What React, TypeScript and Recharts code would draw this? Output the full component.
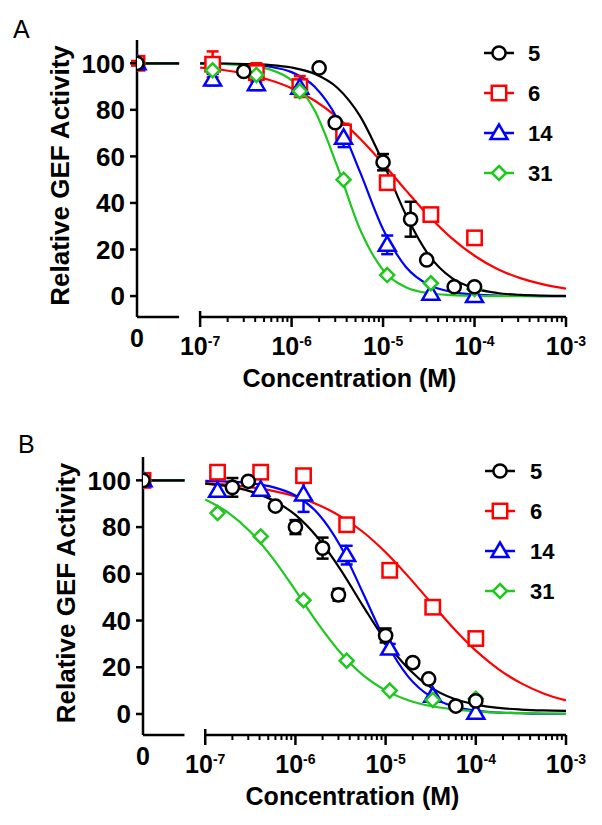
import React from 'react';
import { ComposedChart, XAxis, YAxis, Line, Scatter, ErrorBar, ReferenceLine, Legend, Label } from 'recharts';

const FONT = '"Liberation Sans", Arial, Helvetica, sans-serif';

// ---------------- data ----------------
const COMPOUNDS = ['5', '6', '14', '31'];
const COLORS = ['#000000', '#ff0000', '#0000ff', '#1ec81e'];
const SHAPES = ['circle', 'square', 'triangle', 'diamond'];

const Y_TICKS = [0, 20, 40, 60, 80, 100];
const X_DECADES = [-7, -6, -5, -4, -3];

// concentrations (M); 0 = no compound, drawn on the broken-axis segment
const DIL3_CONC = [0, 1.37e-7, 4.12e-7, 1.23e-6, 3.7e-6, 1.11e-5, 3.33e-5, 1e-4];
const A_CONC_5 = [0, 3e-7, 2e-6, 3e-6, 1e-5, 2e-5, 3e-5, 6e-5, 1e-4];
const B_CONC_5 = [0, 2e-7, 3e-7, 6e-7, 1e-6, 2e-6, 3e-6, 1e-5, 2e-5, 3e-5, 6e-5, 1e-4];

// Panel A measured points (relative GEF activity, %)
const A_VAL_5 = [100, 96.5, 98, 74.5, 57.5, 33, 15.5, 4, 4];
const A_ERR_5 = [0, 0, 0, 0, 3.5, 7.5, 0, 0, 0];
const A_VAL_6 = [100, 99.6, 96, 90, 70.5, 48.7, 35, 25];
const A_ERR_6 = [1, 5.5, 4, 4.5, 3.5, 0, 0, 0];
const A_VAL_14 = [100, 93, 91, 89.5, 68, 22, 1, 0];
const A_ERR_14 = [0, 2.5, 2.5, 2, 4, 4, 0, 0];
const A_VAL_31 = [100, 97, 95, 88, 50, 9, 5.5, 3];
const A_ERR_31 = [0, 0, 0, 2, 0, 0, 0, 0];

// Panel B measured points
const B_VAL_5 = [100, 97, 99.6, 89, 80, 71, 51, 33.6, 22, 15, 3.4, 5.6];
const B_ERR_5 = [0, 4, 0, 0, 3, 4.5, 2.5, 3, 0, 0, 0, 0];
const B_VAL_6 = [100, 103.5, 103.5, 102, 81, 61.5, 45.7, 32.3];
const B_ERR_6 = [0, 0, 0, 0, 0, 0, 0, 0];
const B_VAL_14 = [100, 95.5, 96, 94, 68, 28, 7.8, 0.5];
const B_ERR_14 = [0, 0, 0, 7.5, 4, 2, 0, 0];
const B_VAL_31 = [100, 86, 76, 48.7, 22.8, 10, 6, 6.5];
const B_ERR_31 = [0, 0, 0, 0, 0, 0, 0, 0];

// fitted curves (exponent of concentration -> %)
const CURVE_EXP = [-7, -6.75, -6.5, -6.25, -6, -5.75, -5.5, -5.25, -5, -4.75, -4.5, -4.25, -4, -3.75, -3.5, -3.25, -3];
const A_FIT_5 = [100, 99.9, 99.7, 99.3, 98.2, 95.5, 89.5, 77.2, 57.4, 34.9, 17.6, 7.8, 3.3, 1.3, 0.5, 0.2, 0.1];
const A_FIT_6 = [98.1, 97.1, 95.4, 92.9, 89.3, 84.0, 76.8, 67.6, 56.9, 45.4, 34.4, 24.9, 17.3, 11.6, 7.7, 5.0, 3.2];
const A_FIT_14 = [99.9, 99.8, 99.5, 98.6, 96.2, 90.0, 76.2, 53.1, 28.7, 12.5, 4.8, 1.8, 0.6, 0.2, 0.1, 0, 0];
const A_FIT_31 = [99.9, 99.7, 99.2, 97.5, 92.6, 79.9, 55.7, 28.5, 11.2, 3.8, 1.2, 0.4, 0.1, 0, 0, 0, 0];
const B_FIT_5 = [98.6, 97.5, 95.3, 91.5, 85.2, 75.3, 61.8, 46.2, 31.3, 19.5, 11.4, 6.6, 4.0, 2.6, 1.9, 1.5, 1.3];
const B_FIT_6 = [98.8, 98.1, 97.1, 95.5, 93.1, 89.6, 84.6, 77.9, 69.2, 58.9, 47.8, 36.8, 27.1, 19.2, 13.2, 8.8, 5.8];
const B_FIT_14 = [99.8, 99.5, 98.8, 97.1, 93.5, 85.8, 71.8, 51.7, 31.1, 16.0, 7.4, 3.3, 1.4, 0.6, 0.3, 0.1, 0.1];
const B_FIT_31 = [91.8, 86.3, 78.0, 66.6, 52.9, 38.7, 26.2, 16.6, 10.1, 5.9, 3.4, 2.0, 1.1, 0.6, 0.4, 0.2, 0.1];

// zero-dose plateau segment
const ZERO_SEG_VAL = [100, 100];

// ---------------- layout ----------------
const ZERO_X = -7.69; // where "0" sits on the axis
const ZERO_END = -7.23; // end of the zero segment
const X_MAX = -3;
const Y_MIN = -9;
const Y_MAX = 110;

const MINOR_TICKS: number[] = [];
[-7, -6, -5, -4].forEach((k) => {
  for (let m = 2; m <= 9; m++) MINOR_TICKS.push(k + Math.log10(m));
});
const X_TICKS = [ZERO_X, ...X_DECADES, ...MINOR_TICKS];

const toX = (c: number) => (c === 0 ? ZERO_X : Math.log10(c));
const pts = (conc: number[], val: number[], err: number[]) =>
  conc.map((c, i) => ({ x: toX(c), y: val[i], err: err[i] }));
const curve = (vals: number[]) => CURVE_EXP.map((e, i) => ({ x: e, y: vals[i] }));
const zeroSeg = () => [
  { x: ZERO_X, y: ZERO_SEG_VAL[0] },
  { x: ZERO_END, y: ZERO_SEG_VAL[1] },
];

function Marker({ cx, cy, shape, color }: any) {
  if (cx == null || cy == null || isNaN(cx) || isNaN(cy)) return <g />;
  const sw = 2.5;
  if (shape === 'circle') return <circle cx={cx} cy={cy} r={6.6} fill="#fff" stroke={color} strokeWidth={sw} />;
  if (shape === 'square')
    return <rect x={cx - 7.2} y={cy - 7.2} width={14.4} height={14.4} fill="#fff" stroke={color} strokeWidth={sw} />;
  if (shape === 'triangle')
    return (
      <polygon
        points={`${cx},${cy - 8.5} ${cx - 8.5},${cy + 6} ${cx + 8.5},${cy + 6}`}
        fill="#fff"
        stroke={color}
        strokeWidth={sw}
        strokeLinejoin="miter"
      />
    );
  return (
    <polygon
      points={`${cx},${cy - 7} ${cx + 7},${cy} ${cx},${cy + 7} ${cx - 7},${cy}`}
      fill="#fff"
      stroke={color}
      strokeWidth={sw}
    />
  );
}

function XTick(props: any) {
  const { x, y, payload } = props;
  const v = payload.value;
  if (Math.abs(v - ZERO_X) < 1e-9) {
    return (
      <text x={x} y={y + 30} textAnchor="middle" fontSize={25} fontWeight="bold" fontFamily={FONT} fill="#000">
        0
      </text>
    );
  }
  const major = Math.abs(v - Math.round(v)) < 1e-9;
  if (!major) return <line x1={x} y1={y} x2={x} y2={y + 5} stroke="#000" strokeWidth={2} />;
  const first = Math.abs(v - X_DECADES[0]) < 1e-9;
  return (
    <g>
      <line x1={x} y1={first ? y - 6 : y} x2={x} y2={y + 10} stroke="#000" strokeWidth={2.5} />
      <text x={x} y={y + 38} textAnchor="middle" fontWeight="bold" fontFamily={FONT} fill="#000">
        <tspan fontSize={25}>10</tspan>
        <tspan fontSize={14} dy={-9}>
          {String(Math.round(v))}
        </tspan>
      </text>
    </g>
  );
}

function LegendBox({ markerX, textX, rowTop, gap }: any) {
  return (
    <svg width={110} height={175} style={{ overflow: 'visible' }}>
      {COMPOUNDS.map((name, i) => {
        const y = rowTop + i * gap;
        return (
          <g key={name}>
            <line x1={markerX - 15} y1={y} x2={markerX + 15} y2={y} stroke={COLORS[i]} strokeWidth={2.5} />
            <Marker cx={markerX} cy={y} shape={SHAPES[i]} color={COLORS[i]} />
            <text
              x={textX}
              y={y}
              dominantBaseline="central"
              fontSize={22}
              fontWeight="bold"
              fontFamily={FONT}
              fill="#000"
            >
              {name}
            </text>
          </g>
        );
      })}
    </svg>
  );
}

const DRAW_ORDER = [1, 2, 3, 0];

function Panel({ height, marginTop, marginBottom, yAxisWidth, points, fits, legend }: any) {
  return (
    <ComposedChart
      width={602}
      height={height}
      margin={{ top: marginTop, right: 36, bottom: marginBottom, left: 0 }}
    >
      <XAxis
        type="number"
        dataKey="x"
        domain={[ZERO_X, X_MAX]}
        allowDataOverflow
        ticks={X_TICKS}
        interval={0}
        tick={<XTick />}
        axisLine={false}
        tickLine={false}
        tickSize={0}
        tickMargin={0}
        height={80}
      >
        <Label
          content={(p: any) => {
            const vb = p.viewBox;
            return (
              <text
                x={vb.x + vb.width / 2 - 2}
                y={vb.y + 70}
                textAnchor="middle"
                fontSize={25}
                fontWeight="bold"
                fontFamily={FONT}
                fill="#000"
              >
                Concentration (M)
              </text>
            );
          }}
        />
      </XAxis>
      <YAxis
        type="number"
        dataKey="y"
        domain={[Y_MIN, Y_MAX]}
        allowDataOverflow
        ticks={Y_TICKS}
        interval={0}
        width={yAxisWidth}
        tick={{ fontSize: 26, fontWeight: 'bold', fill: '#000', fontFamily: FONT }}
        tickSize={7}
        tickMargin={5}
        axisLine={{ stroke: '#000', strokeWidth: 2.5 }}
        tickLine={{ stroke: '#000', strokeWidth: 2.5 }}
      >
        <Label
          content={(p: any) => {
            const vb = p.viewBox;
            const cx = vb.x + vb.width - 77;
            const cy = vb.y + vb.height / 2 - 3;
            return (
              <text
                x={cx}
                y={cy}
                transform={`rotate(-90 ${cx} ${cy})`}
                textAnchor="middle"
                dominantBaseline="central"
                fontSize={26}
                fontWeight="bold"
                fontFamily={FONT}
                fill="#000"
              >
                Relative GEF Activity
              </text>
            );
          }}
        />
      </YAxis>
      <ReferenceLine
        segment={[
          { x: ZERO_X, y: Y_MIN },
          { x: ZERO_END, y: Y_MIN },
        ]}
        stroke="#000"
        strokeWidth={2.5}
        ifOverflow="visible"
      />
      <ReferenceLine
        segment={[
          { x: X_DECADES[0], y: Y_MIN },
          { x: X_MAX, y: Y_MIN },
        ]}
        stroke="#000"
        strokeWidth={2.5}
        ifOverflow="visible"
      />
      {DRAW_ORDER.map((i) => (
        <Line
          key={'z' + i}
          data={zeroSeg()}
          dataKey="y"
          type="linear"
          stroke={COLORS[i]}
          strokeWidth={2.2}
          dot={false}
          activeDot={false}
          isAnimationActive={false}
        />
      ))}
      {DRAW_ORDER.map((i) => (
        <Line
          key={'c' + i}
          data={fits[i]}
          dataKey="y"
          type="monotone"
          stroke={COLORS[i]}
          strokeWidth={2.2}
          dot={false}
          activeDot={false}
          isAnimationActive={false}
        />
      ))}
      {DRAW_ORDER.map((i) => (
        <Scatter
          key={'e' + i}
          data={points[i].filter((d: any) => d.err > 0)}
          dataKey="y"
          shape={() => <g />}
          isAnimationActive={false}
        >
          <ErrorBar dataKey="err" direction="y" width={6} strokeWidth={2.5} stroke={COLORS[i]} />
        </Scatter>
      ))}
      {DRAW_ORDER.map((i) => (
        <Scatter
          key={'s' + i}
          data={points[i]}
          dataKey="y"
          zIndex={2500}
          shape={(p: any) => <Marker cx={p.cx} cy={p.cy} shape={SHAPES[i]} color={COLORS[i]} />}
          isAnimationActive={false}
        />
      ))}
      <Legend
        layout="vertical"
        align="center"
        verticalAlign="middle"
        wrapperStyle={{ position: 'absolute', left: legend.left, top: legend.top, width: 110, height: 175 }}
        content={() => <LegendBox markerX={legend.markerX} textX={legend.textX} rowTop={legend.rowTop} gap={40} />}
      />
    </ComposedChart>
  );
}

const A_POINTS = [
  pts(A_CONC_5, A_VAL_5, A_ERR_5),
  pts(DIL3_CONC, A_VAL_6, A_ERR_6),
  pts(DIL3_CONC, A_VAL_14, A_ERR_14),
  pts(DIL3_CONC, A_VAL_31, A_ERR_31),
];
const A_FITS = [curve(A_FIT_5), curve(A_FIT_6), curve(A_FIT_14), curve(A_FIT_31)];
const B_POINTS = [
  pts(B_CONC_5, B_VAL_5, B_ERR_5),
  pts(DIL3_CONC, B_VAL_6, B_ERR_6),
  pts(DIL3_CONC, B_VAL_14, B_ERR_14),
  pts(DIL3_CONC, B_VAL_31, B_ERR_31),
];
const B_FITS = [curve(B_FIT_5), curve(B_FIT_6), curve(B_FIT_14), curve(B_FIT_31)];

export default function App() {
  return (
    <div style={{ position: 'absolute', left: 0, top: 0, width: 602, height: 825, background: '#fff', fontFamily: FONT }}>
      <div style={{ position: 'absolute', left: 0, top: 0 }}>
        <Panel
          height={412}
          marginTop={40}
          marginBottom={15}
          yAxisWidth={137}
          points={A_POINTS}
          fits={A_FITS}
          legend={{ left: 470, top: 30, markerX: 29, textX: 58, rowTop: 23 }}
        />
      </div>
      <div style={{ position: 'absolute', left: 0, top: 412 }}>
        <Panel
          height={413}
          marginTop={45}
          marginBottom={10}
          yAxisWidth={143}
          points={B_POINTS}
          fits={B_FITS}
          legend={{ left: 470, top: 36, markerX: 30, textX: 60, rowTop: 23 }}
        />
      </div>
      <div style={{ position: 'absolute', left: 13, top: 15, fontSize: 25, lineHeight: 'normal', color: '#000' }}>A</div>
      <div style={{ position: 'absolute', left: 18, top: 430, fontSize: 25, lineHeight: 'normal', color: '#000' }}>B</div>
    </div>
  );
}
